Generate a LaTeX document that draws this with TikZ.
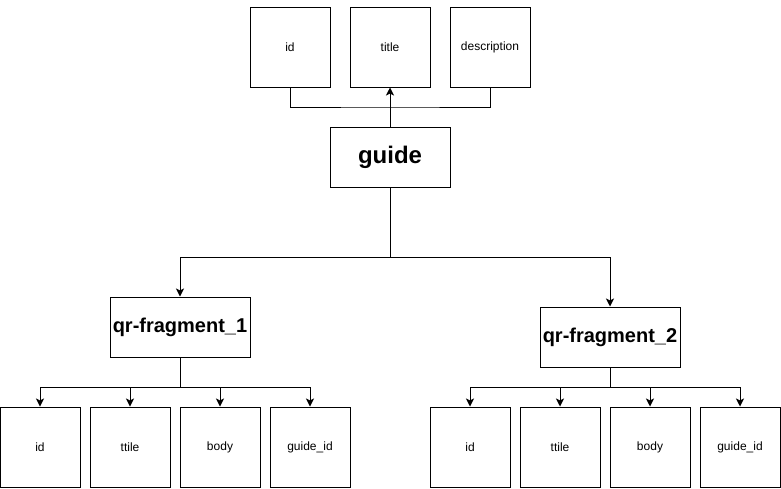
\documentclass[tikz,border=0pt]{standalone}
\usepackage{fontspec}
\setmainfont{Liberation Sans}
\usetikzlibrary{arrows.meta}

\begin{document}
\begin{tikzpicture}[x=1pt,y=-1pt,line width=1pt,
    >={Stealth[length=8pt,width=8pt,inset=2pt]},
    field/.style={draw,minimum width=80pt,minimum height=80pt,inner sep=0pt,
      font=\fontsize{12}{14}\selectfont},
    entity/.style={draw,minimum height=60pt,inner sep=0pt,font=\bfseries}]
  \useasboundingbox (0,0) rectangle (781,488);
  % guide and its fields
  \node[field] (gid) at (290,47) {id};
  \node[field] (gtitle) at (390,47) {title};
  \node[field] (gdesc) at (490,47) {description};
  \node[entity,minimum width=120pt,font=\bfseries\fontsize{24}{28}\selectfont] (guide) at (390,157) {guide};
  \coordinate (topjoin) at (390,107);
  \draw (gid.south) |- (topjoin) -| (gdesc.south);
  \draw[->] (guide.north) -- (gtitle.south);
  % the two fragments
  \node[entity,minimum width=140pt,font=\bfseries\fontsize{20}{24}\selectfont] (qr1) at (180,327) {qr-fragment\_1};
  \node[entity,minimum width=140pt,font=\bfseries\fontsize{20}{24}\selectfont] (qr2) at (610,337) {qr-fragment\_2};
  \coordinate (midjoin) at (390,257);
  \draw (guide.south) -- (midjoin);
  \draw[->] (midjoin) -| (qr1.north);
  \draw[->] (midjoin) -| (qr2.north);
  % fragment fields
  \coordinate (leftjoin) at (180,387);
  \coordinate (rightjoin) at (610,387);
  \draw (qr1.south) -- (leftjoin);
  \draw (qr2.south) -- (rightjoin);
  \foreach \name/\txt [count=\i from 0] in {id/id,ttile/ttile,body/body,gref/guide\_id}{
    \node[field] (l\name) at (40+90*\i,447) {\txt};
    \node[field] (r\name) at (470+90*\i,447) {\txt};
    \draw[->] (leftjoin) -| (l\name.north);
    \draw[->] (rightjoin) -| (r\name.north);
  }
\end{tikzpicture}
\end{document}
